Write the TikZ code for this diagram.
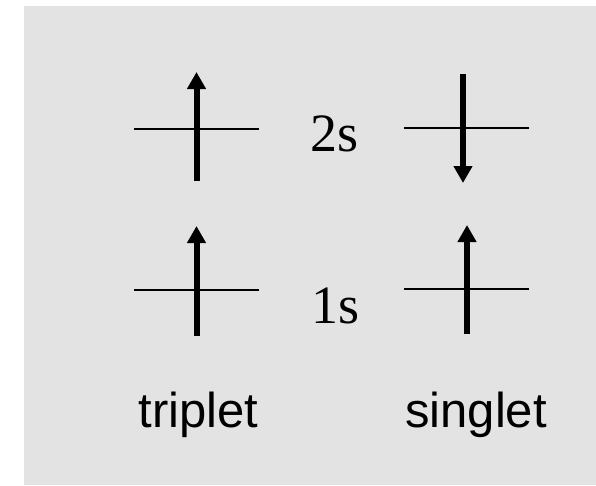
\documentclass[tikz,border=0pt]{standalone}
\usepackage{fontspec}
\setmainfont{Liberation Serif}
\newfontfamily\labelfont{Liberation Sans}
\usetikzlibrary{arrows.meta}
\definecolor{bggray}{HTML}{E3E3E3}
\tikzset{
  level/.style={line width=1.6pt, black},
  spin/.style={line width=6pt, black, -{Triangle[length=17pt,width=18pt]}},
  orb/.style={inner sep=0pt, anchor=base, font=\fontsize{54}{62}\selectfont},
  term/.style={inner sep=0pt, anchor=base, font=\labelfont\fontsize{49}{56}\selectfont},
}
\begin{document}
\begin{tikzpicture}[x=1pt, y=-1pt]
\useasboundingbox (0,0) rectangle (596,485);
\fill[white] (0,0) rectangle (596,485);
\fill[bggray] (24,6) rectangle (596,485);
% levels
\coordinate (t2l) at (134,129); \coordinate (t2r) at (259,129);
\coordinate (s2l) at (404,128); \coordinate (s2r) at (529,128);
\coordinate (t1l) at (134,290); \coordinate (t1r) at (259,290);
\coordinate (s1l) at (404,289); \coordinate (s1r) at (529,289);
\draw[level] (t2l) -- (t2r);
\draw[level] (s2l) -- (s2r);
\draw[level] (t1l) -- (t1r);
\draw[level] (s1l) -- (s1r);
% spins
\coordinate (t2a) at (196.5,181); \coordinate (t2b) at (196.5,72);
\coordinate (s2a) at (463,74);    \coordinate (s2b) at (463,183);
\coordinate (t1a) at (196.5,336); \coordinate (t1b) at (196.5,226);
\coordinate (s1a) at (467,334);   \coordinate (s1b) at (467,225);
\draw[spin] (t2a) -- (t2b);
\draw[spin] (s2a) -- (s2b);
\draw[spin] (t1a) -- (t1b);
\draw[spin] (s1a) -- (s1b);
% labels
\node[orb] (l2s) at (335,151) {2s};
\node[orb] (l1s) at (336,323) {1s};
\node[term] (trip) at (198.5,427) {triplet};
\node[term] (sing) at (476,427) {singlet};
\end{tikzpicture}
\end{document}
